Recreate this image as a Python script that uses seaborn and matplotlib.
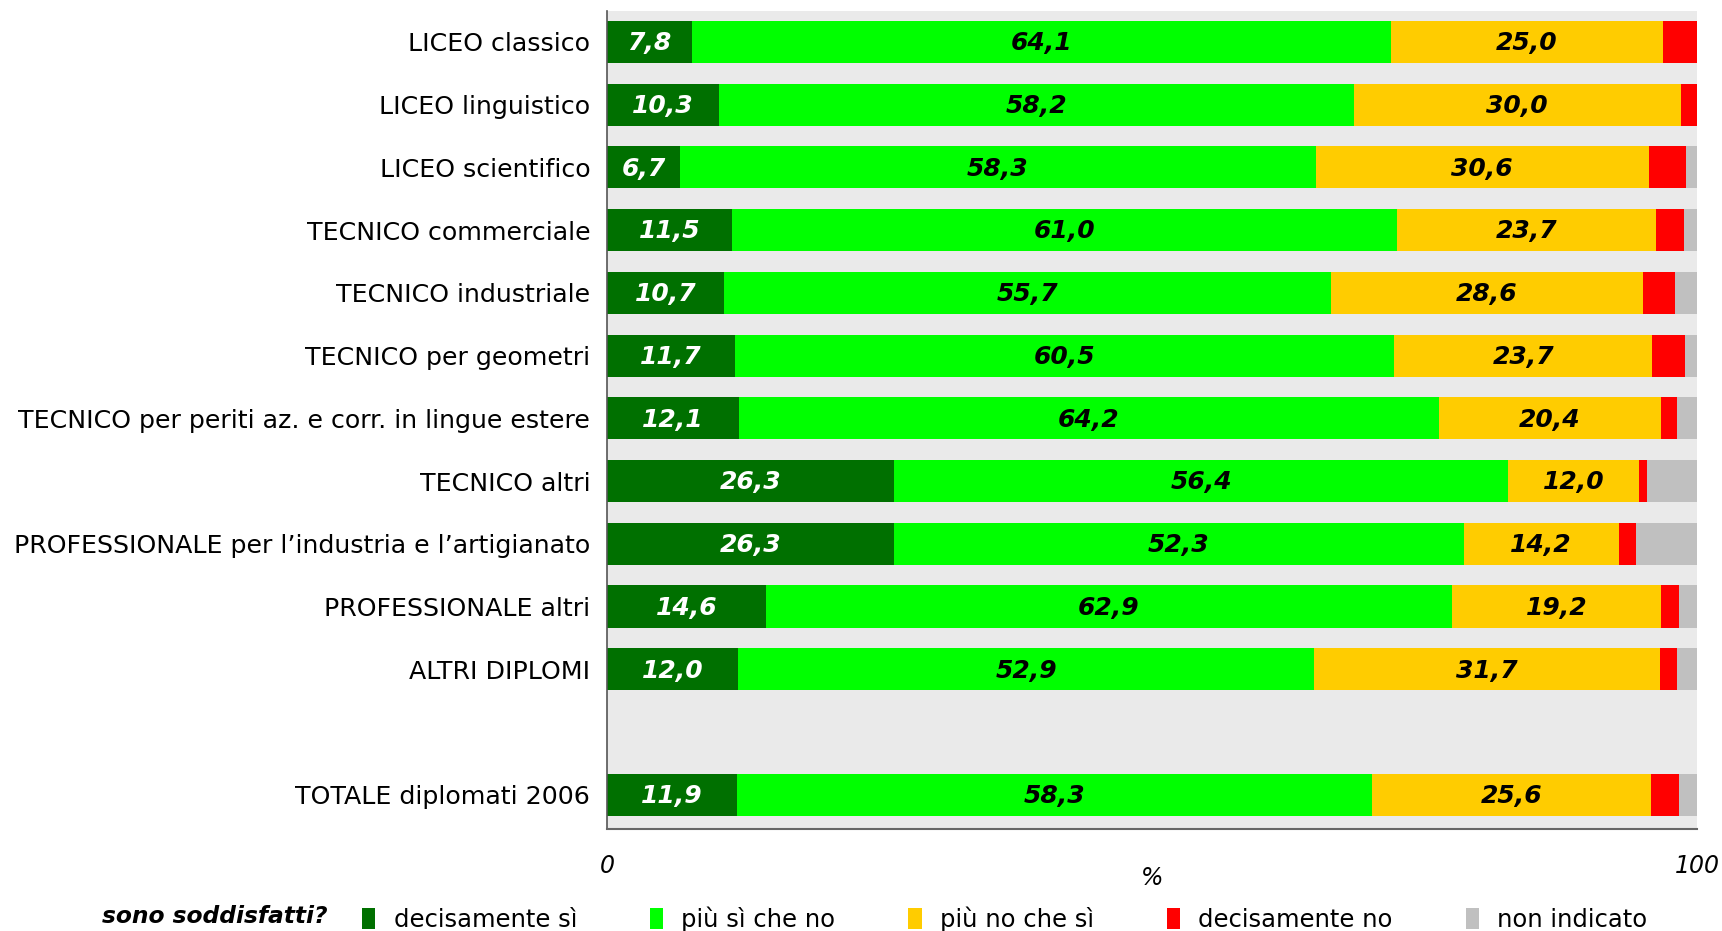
import matplotlib
matplotlib.use("Agg")
import matplotlib.pyplot as plt
import seaborn as sns
import numpy as np
import pandas as pd
from matplotlib.patches import Patch

categories = [
    "LICEO classico",
    "LICEO linguistico",
    "LICEO scientifico",
    "TECNICO commerciale",
    "TECNICO industriale",
    "TECNICO per geometri",
    "TECNICO per periti az. e corr. in lingue estere",
    "TECNICO altri",
    "PROFESSIONALE per l\u2019industria e l\u2019artigianato",
    "PROFESSIONALE altri",
    "ALTRI DIPLOMI",
    "TOTALE diplomati 2006",
]
decisamente_si = [7.8, 10.3, 6.7, 11.5, 10.7, 11.7, 12.1, 26.3, 26.3, 14.6, 12.0, 11.9]
piu_si_che_no = [64.1, 58.2, 58.3, 61.0, 55.7, 60.5, 64.2, 56.4, 52.3, 62.9, 52.9, 58.3]
piu_no_che_si = [25.0, 30.0, 30.6, 23.7, 28.6, 23.7, 20.4, 12.0, 14.2, 19.2, 31.7, 25.6]
decisamente_no = [3.1, 1.5, 3.4, 2.6, 3.0, 3.0, 1.5, 0.7, 1.6, 1.6, 1.6, 2.5]
non_indicato = [0.0, 0.0, 1.0, 1.2, 2.0, 1.1, 1.8, 4.6, 5.6, 1.7, 1.8, 1.7]

series_names = ["decisamente s\u00ec", "pi\u00f9 s\u00ec che no", "pi\u00f9 no che s\u00ec",
                "decisamente no", "non indicato"]
series_values = [decisamente_si, piu_si_che_no, piu_no_che_si, decisamente_no, non_indicato]
colors = ["#007000", "#00FF00", "#FFCC00", "#FF0000", "#C0C0C0"]
label_colors = ["white", "black", "black", None, None]

# row positions: a blank slot before the total row
positions = list(range(11)) + [12]

sns.set_style("white")
plt.rcParams["font.family"] = ["DejaVu Sans"]
plt.rcParams["text.color"] = "black"
plt.rcParams["xtick.color"] = "black"
plt.rcParams["ytick.color"] = "black"
plt.rcParams["axes.labelcolor"] = "black"

fig = plt.figure(figsize=(17.22, 9.31), dpi=100)
ax = fig.add_axes([0.3525, 0.110, 0.633, 0.878])
ax.set_facecolor("#EAEAEA")

cum = np.cumsum(np.array(series_values), axis=0)
bar_h = 0.67
# draw from the largest cumulative to the smallest so segments stack
for i in range(len(series_names) - 1, -1, -1):
    sns.barplot(x=cum[i], y=positions, orient="h", native_scale=True,
                color=colors[i], width=bar_h, ax=ax, saturation=1,
                linewidth=0, errorbar=None)

# value labels
for i in range(3):
    starts = cum[i] - np.array(series_values[i])
    for p, s, v in zip(positions, starts, series_values[i]):
        ax.text(s + v / 2, p + 0.02, f"{v:.1f}".replace(".", ","), ha="center", va="center",
                fontsize=18, fontweight="bold", fontstyle="italic",
                color=label_colors[i])

ax.set_xlim(0, 100)
ax.set_ylim(12.54, -0.49)
ax.set_yticks(positions)
ax.set_yticklabels(categories, fontsize=18.2)
ax.tick_params(axis="y", length=0, pad=12)
ax.set_xticks([0, 50, 100])
ax.set_xticklabels(["0", "", "100"], fontsize=17, fontstyle="italic")
ax.tick_params(axis="x", direction="out", length=8, width=1, color="#555555", pad=10)
ax.set_xlabel("%", fontsize=17, fontstyle="italic", labelpad=-8)
ax.set_ylabel("")
for s in ["top", "right"]:
    ax.spines[s].set_visible(False)
ax.spines["bottom"].set_color("#666666")
ax.spines["left"].set_color("#555555")
ax.spines["bottom"].set_linewidth(1.5)
ax.spines["left"].set_linewidth(1.2)

fig.text(0.190, 0.003, "sono soddisfatti?", fontsize=16.8, fontweight="bold",
         fontstyle="italic", ha="right", va="bottom")
handles = [Patch(facecolor=c, edgecolor="none") for c in colors]
fig.legend(handles, series_names, loc="lower left", bbox_to_anchor=(0.1975, -0.0245),
           ncol=5, frameon=False, fontsize=17.5, handlelength=0.55, handleheight=0.9,
           handletextpad=0.75, columnspacing=3.0)

fig.savefig("out.png", dpi=100)
